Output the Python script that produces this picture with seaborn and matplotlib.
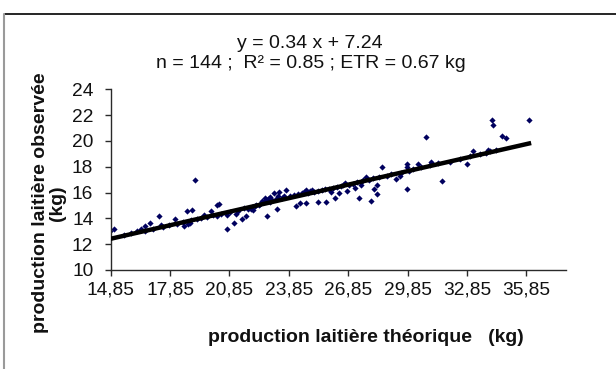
import numpy as np
import pandas as pd
import matplotlib
matplotlib.use("Agg")
import matplotlib.pyplot as plt
from matplotlib.lines import Line2D
import seaborn as sns

# ---- data ----
x_obs = [14.8, 15.03, 16.38, 16.57, 16.83, 17.27, 17.37, 18.1, 18.56, 18.7,
         18.75, 18.95, 18.85, 19.09, 19.55, 19.9, 20.24, 20.34, 20.2, 20.7,
         20.74, 21.07, 21.17, 21.47, 21.69, 21.93, 22.03, 22.12, 22.32, 22.62,
         22.74, 22.92, 23.11, 23.27, 23.37, 23.71, 24.2, 24.4, 24.7, 24.7,
         25.0, 25.33, 25.73, 25.99, 26.19, 26.39, 26.68, 26.78, 27.18, 27.38,
         27.48, 27.77, 28.01, 28.17, 28.31, 28.31, 28.53, 29.26, 29.46, 29.8,
         29.8, 29.82, 30.35, 30.79, 31.04, 31.58, 32.87, 33.16, 33.92, 34.12,
         34.15, 34.61, 34.81, 36.0,
         15.5, 15.9, 16.2, 16.6, 17.0, 17.5, 17.8, 18.2, 18.5, 18.9,
         19.2, 19.4, 19.7, 20.0, 20.4, 20.9, 21.3, 21.6, 21.8, 22.0,
         22.2, 22.4, 22.5, 22.7, 22.8, 22.9, 23.0, 23.2, 23.3, 23.5,
         23.6, 23.9, 24.1, 24.3, 24.5, 24.6, 24.8, 24.9, 25.1, 25.3,
         25.5, 25.7, 25.9, 26.1, 26.3, 26.5, 26.6, 26.9, 27.1, 27.3,
         27.5, 27.6, 27.9, 28.1, 28.4, 28.8, 29.0, 29.5, 29.9, 30.1,
         30.5, 31.0, 31.4, 32.0, 32.5, 33.0, 33.5, 33.8, 34.0, 34.3]
y_obs = [12.99, 13.2, 13.2, 13.38, 13.64, 14.16, 13.5, 13.98, 13.41, 14.58,
         13.54, 14.63, 13.67, 16.97, 14.29, 14.55, 15.02, 15.15, 14.16, 13.17,
         14.24, 13.64, 14.37, 13.98, 14.19, 14.76, 14.63, 14.94, 15.02, 15.54,
         14.19, 15.67, 15.93, 14.76, 16.01, 16.19, 14.97, 15.2, 15.2, 16.19,
         16.19, 15.23, 15.23, 16.01, 15.59, 15.93, 16.76, 16.14, 16.32, 15.59,
         16.58, 17.23, 15.33, 16.24, 15.88, 16.58, 18.01, 17.05, 17.28, 18.22,
         18.01, 16.24, 18.22, 20.28, 18.4, 16.9, 18.22, 19.24, 19.32, 21.6,
         21.27, 20.36, 20.23, 21.66,
         12.7, 12.85, 13.0, 13.05, 13.2, 13.35, 13.5, 13.6, 13.7, 13.85,
         13.95, 14.05, 14.1, 14.25, 14.35, 14.5, 14.6, 14.8, 14.75, 14.9,
         15.0, 15.1, 15.35, 15.4, 15.5, 15.3, 15.45, 15.5, 15.7, 15.6,
         15.75, 15.7, 15.8, 15.85, 15.95, 16.05, 16.0, 16.1, 16.05, 16.15,
         16.2, 16.25, 16.3, 16.35, 16.45, 16.5, 16.6, 16.6, 16.7, 16.8,
         16.85, 16.95, 17.0, 17.1, 17.2, 17.3, 17.4, 17.55, 17.7, 17.85,
         18.0, 18.1, 18.3, 18.4, 18.6, 18.8, 19.0, 19.1, 19.25, 19.3]

# regression line as drawn (end points)
fit_x = [14.85, 36.09]
fit_y = [12.42, 19.84]

x_ticks = [14.85, 17.85, 20.85, 23.85, 26.85, 29.85, 32.85, 35.85]
x_tick_labels = ["14,85", "17,85", "20,85", "23,85", "26,85", "29,85", "32,85", "35,85"]
y_ticks = [10, 12, 14, 16, 18, 20, 22, 24]

title_lines = ["y = 0.34 x + 7.24", "n = 144 ;  R\u00b2 = 0.85 ; ETR = 0.67 kg"]
xlabel = "production laiti\u00e8re th\u00e9orique   (kg)"
ylabel = "production laiti\u00e8re observ\u00e9e\n(kg)"

# ---- style ----
sns.set_style("white")
plt.rcParams["font.family"] = ["Liberation Sans", "DejaVu Sans"]

W, H = 616, 369
fig = plt.figure(figsize=(W / 100, H / 100), dpi=100)
ax = fig.add_axes([110.7 / W, 1 - 270 / H, (566 - 110.7) / W, (270 - 89.3) / H])

df = pd.DataFrame({"x": x_obs, "y": y_obs})
sns.scatterplot(data=df, x="x", y="y", ax=ax, marker="D", s=10,
                color="#00005e", linewidth=0, zorder=2)
sns.lineplot(x=fit_x, y=fit_y, ax=ax, color="black", linewidth=3.2,
             zorder=3, solid_capstyle="butt")

ax.set_xlim(14.85, 37.85)
ax.set_ylim(10, 24)
ax.set_xticks(x_ticks)
ax.set_xticklabels(x_tick_labels)
ax.set_yticks(y_ticks)
ax.set_xlabel("")
ax.set_ylabel("")

for s in ["top", "right"]:
    ax.spines[s].set_visible(False)
for s in ["left", "bottom"]:
    ax.spines[s].set_color("#2a2a2a")
    ax.spines[s].set_linewidth(1.0)

ax.tick_params(axis="both", direction="out", length=4.5, width=1.0,
               color="#2a2a2a", labelsize=13.8, labelcolor="#111111")
ax.tick_params(axis="x", pad=4)
ax.tick_params(axis="y", pad=8)
ax.tick_params(axis="both", which="both", left=True, bottom=True)

# title lines
fig.text(310 / W, 1 - 44 / H, title_lines[0], ha="center", va="center",
         fontsize=14, color="#111111")
fig.text(311 / W, 1 - 64 / H, title_lines[1], ha="center", va="center",
         fontsize=14, color="#111111")

# axis titles
fig.text(49 / W, 1 - 203 / H, ylabel, rotation=90, ha="center", va="center",
         fontsize=14, fontweight="bold", multialignment="center",
         linespacing=1.0, color="#111111")
fig.text(366 / W, 1 - 338 / H, xlabel, ha="center", va="center",
         fontsize=14, fontweight="bold", color="#111111")

# frame lines of the surrounding cell
fig.add_artist(Line2D([5 / W, 1.0], [1 - 14 / H, 1 - 14 / H],
                      transform=fig.transFigure, color="black", linewidth=1.2))
fig.add_artist(Line2D([3.5 / W, 3.5 / W], [0.0, 1 - 14 / H],
                      transform=fig.transFigure, color="#9a9a9a", linewidth=1.5))

fig.savefig("out.png", dpi=100)
